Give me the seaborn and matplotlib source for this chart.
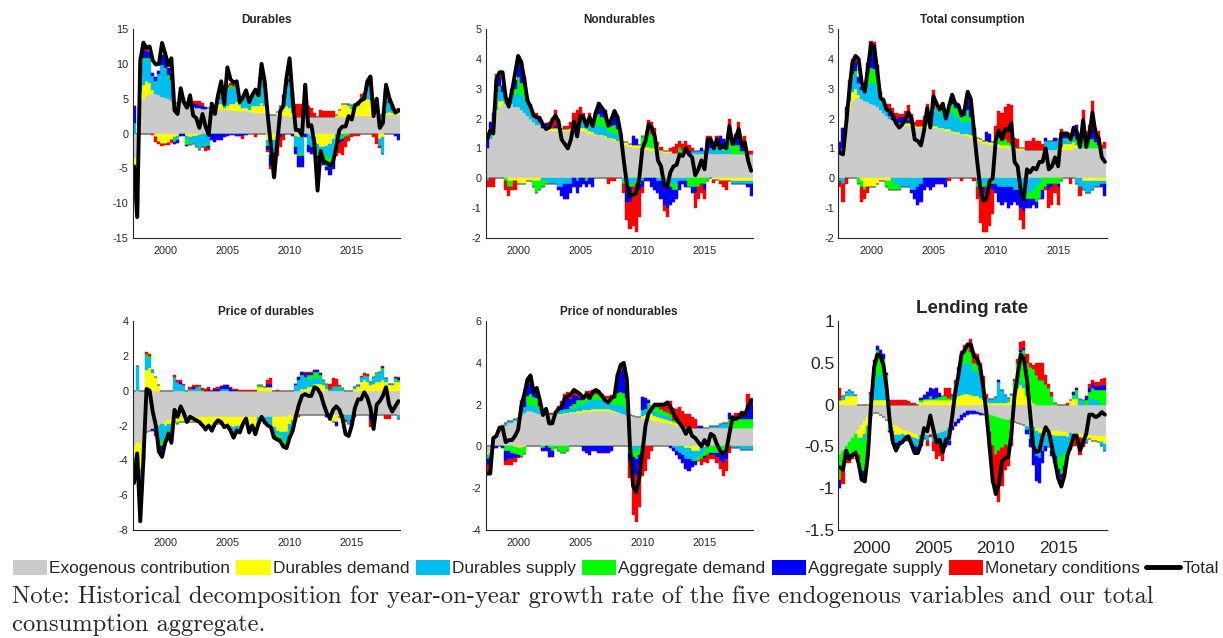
import numpy as np
import pandas as pd
import matplotlib
matplotlib.use("Agg")
import matplotlib.pyplot as plt
import seaborn as sns
from matplotlib.patches import Patch
from matplotlib.lines import Line2D

# quarters 1997Q3 .. 2018Q4
quarters = pd.period_range("1997Q3", "2018Q4", freq="Q")

shock_names = ["Exogenous contribution", "Durables demand", "Durables supply",
               "Aggregate demand", "Aggregate supply", "Monetary conditions"]
shock_colors = ["#cbcbcb", "#ffff00", "#00bef0", "#00ff00", "#0000ff", "#ff0000"]

# ---------------- Durables ----------------
dur_total = [-4.7, -12.0, 10.5, 13.0, 12.3, 12.5, 10.5, 9.9, 10.0, 13.0,
             11.5, 9.8, 10.8, 3.3, 2.8, 6.5, 4.5, 3.7, 5.5, 2.6,
             2.2, 0.8, 2.8, 1.0, -0.2, 4.3, 2.8, 5.5, 7.5, 4.2,
             9.5, 7.8, 7.3, 7.5, 4.5, 5.2, 6.2, 4.5, 5.5, 6.3,
             5.5, 10.0, 7.5, 2.5, -1.8, -6.3, -1.5, 3.2, 4.0, 8.0,
             10.8, 5.0, 0.5, 0.5, -0.3, 7.0, 1.0, 1.2, -1.5, -8.2,
             -2.5, -4.0, -4.2, -4.7, -4.0, -2.0, 0.5, 1.0, 1.0, 2.5,
             2.0, 4.0, 4.3, 4.8, 5.0, 7.5, 8.2, 2.5, 5.0, 0.8,
             1.5, 7.0, 5.2, 4.0, 3.0, 3.3]
dur_exo = [-3.5, -4.0, 4.5, 5.0, 5.4, 5.7, 5.7, 5.6, 5.5, 5.3,
           5.1, 4.9, 4.7, 4.5, 4.4, 4.2, 4.1, 4.0, 3.9, 3.8,
           3.7, 3.6, 3.5, 3.5, 3.4, 3.4, 3.4, 3.4, 3.4, 3.4,
           3.4, 3.4, 3.3, 3.3, 3.3, 3.2, 3.2, 3.1, 3.1, 3.0,
           3.0, 2.9, 2.9, 2.8, 2.7, 2.6, 2.6, 2.5, 2.5, 2.5,
           2.4, 2.4, 2.4, 2.4, 2.4, 2.4, 2.4, 2.4, 2.4, 2.4,
           2.4, 2.4, 2.4, 2.4, 2.4, 2.4, 2.4, 2.4, 2.4, 2.4,
           2.5, 2.5, 2.5, 2.5, 2.5, 2.5, 2.5, 2.5, 2.5, 2.5,
           2.5, 2.5, 2.6, 2.6, 2.6, 2.6]
dur_ddem = [-1.2, -2.0, 1.5, 2.0, 2.2, 1.5, 0.5, -0.5, -1.2, -1.5,
            -1.5, -1.3, -1.0, -0.5, -0.3, 0.2, 0.3, -0.3, -0.5, -0.3,
            -0.3, -0.2, 0.0, 0.0, 0.3, 0.5, 0.5, 0.8, 0.8, 0.3,
            0.5, 0.8, 1.0, 1.2, 0.8, 0.5, 0.5, 0.3, 0.8, 1.0,
            1.0, 1.5, 1.0, -1.0, -1.8, -1.0, 0.5, 1.0, 1.2, 1.5,
            1.2, 0.5, -0.3, -0.5, -0.5, 0.0, 0.0, -0.3, -0.5, -1.5,
            -2.0, -2.0, -1.8, -1.5, -0.8, 0.3, 1.0, 1.8, 1.8, 1.5,
            1.0, 1.0, 1.5, 2.0, 2.3, 2.5, 2.3, 1.5, 1.0, -0.8,
            -0.5, 0.5, 0.5, 0.3, 0.2, 0.3]
dur_dsup = [1.5, -3.0, 2.5, 3.5, 3.0, 3.5, 2.0, 2.0, 3.0, 4.5,
            4.0, 3.0, 2.5, -0.5, -0.5, 0.5, 0.3, -0.5, -0.8, -1.0,
            -1.5, -2.0, -2.0, -1.8, -1.5, 0.3, 0.0, 0.5, 1.5, 0.5,
            2.5, 2.5, 2.2, 2.5, 0.8, 0.8, 1.5, 0.8, 1.2, 1.5,
            1.0, 3.5, 2.5, -0.5, -1.0, -1.5, -0.5, 0.5, 1.0, 2.5,
            3.5, 1.0, -1.5, -2.5, -2.5, 1.0, -1.5, -1.5, -1.5, -1.0,
            -0.5, -1.0, -1.5, -2.0, -2.0, -1.0, -0.5, -0.3, 0.0, 0.3,
            0.3, 0.5, 0.3, 0.5, 0.5, 1.5, 2.5, 0.3, 0.8, -1.0,
            -2.5, 2.0, 1.0, 0.3, 0.0, 0.2]
dur_adem = [0.0, 0.0, 0.0, 0.3, 0.3, 0.2, 0.0, 0.0, 0.0, 0.0,
            0.3, 0.5, 0.5, -0.2, -0.2, 0.2, 0.2, -0.8, -0.3, -0.2,
            -0.2, -0.2, 0.0, -0.2, -0.3, 0.2, 0.0, 0.3, 0.3, 0.0,
            0.3, 0.3, 0.3, 0.3, 0.3, 0.3, 0.3, 0.2, 0.3, 0.3,
            0.3, 0.5, 0.3, -0.3, -0.3, -0.3, -0.3, 0.0, 0.0, 0.3,
            0.3, 0.2, -0.2, -0.3, -0.3, 0.2, -0.2, -0.2, -0.3, -0.8,
            -0.8, -1.0, -1.5, -1.5, -1.3, -0.8, -0.5, -0.5, -0.5, -0.3,
            0.3, 0.3, 0.2, 0.3, 0.2, 0.3, 0.3, 0.0, 0.3, 0.0,
            0.0, 0.5, 0.3, 0.2, 0.1, 0.1]
dur_asup = [2.4, -1.0, 1.0, 1.5, 1.0, 0.8, 0.5, 0.5, 0.5, 1.5,
            1.5, 1.0, 0.8, -0.3, -0.3, -0.3, -0.3, -0.2, 0.3, 0.5,
            0.6, 0.5, 0.5, 0.3, -0.3, -1.0, -1.2, -1.0, -1.0, -0.5,
            -0.3, -0.2, -0.2, -0.3, -0.3, -0.3, -0.2, 0.0, 0.3, 0.3,
            0.5, 0.5, 0.3, -0.5, -1.5, -2.0, -1.0, -0.5, 0.8, 0.5,
            0.3, -0.3, -1.0, -1.5, -1.5, -0.5, -1.0, -1.0, -0.3, -0.3,
            -0.3, -0.5, -0.5, -1.0, -1.0, -0.5, -0.3, -0.3, 0.0, 0.0,
            0.0, 0.0, 0.0, 0.0, 0.0, 0.3, 0.2, 0.0, 0.3, 0.0,
            0.0, 0.3, 0.3, 0.3, -0.3, -1.0]
dur_mon = [-1.7, -2.0, 0.0, 1.0, 0.5, 0.0, -0.2, -0.7, -0.3, -0.3,
           -0.2, -0.3, -0.3, 0.0, 0.0, 0.2, 0.2, 0.3, 0.3, 0.3,
           0.4, 0.6, 0.4, -0.5, -0.3, 0.0, 0.2, 0.3, 0.0, 0.2,
           0.2, 0.3, 0.3, 0.2, 0.2, -0.5, 0.0, 0.2, 0.0, -0.5,
           0.3, 0.5, 0.3, -0.3, -0.5, -1.5, -1.5, -1.5, -1.0, 0.5,
           0.2, 1.8, 1.8, 1.8, 1.8, 3.5, 1.5, 1.3, 0.5, -2.0,
           1.0, 0.9, 0.8, 0.8, 0.8, -1.0, -1.5, -2.0, -1.5, -0.8,
           -0.5, -0.3, -0.3, 0.3, 0.3, 0.3, 0.3, -0.5, -1.5, -0.3,
           0.3, 0.5, 0.3, 0.5, 0.5, 0.5]

# ---------------- Nondurables ----------------
nd_total = [1.3, 1.6, 1.5, 3.3, 3.55, 3.55, 2.7, 2.4, 2.9, 3.5,
            4.1, 3.9, 3.3, 2.6, 2.4, 2.1, 2.05, 2.0, 1.8, 1.65,
            1.7, 1.95, 2.1, 1.9, 1.3, 1.15, 1.0, 1.3, 1.9, 1.4,
            2.1, 2.05, 1.75, 2.05, 1.75, 2.2, 2.5, 2.35, 2.2, 1.75,
            1.95, 2.25, 2.05, 1.5, 0.6, -0.2, -0.6, -0.55, -0.5, 0.0,
            1.0, 1.25, 1.8, 1.7, 1.4, 0.6, 0.4, -0.2, -0.3, 0.2,
            0.4, 0.45, 0.8, 0.75, 1.0, 0.8, 0.7, 0.1, 0.3, 0.6,
            0.3, 1.3, 1.3, 1.0, 1.3, 1.0, 1.1, 1.0, 1.75, 1.15,
            1.35, 1.65, 1.1, 1.2, 0.6, 0.25]
nd_exo = [1.0, 1.3, 1.6, 2.2, 2.4, 2.5, 2.5, 2.5, 2.5, 2.4,
          2.4, 2.3, 2.2, 2.1, 2.0, 1.9, 1.8, 1.8, 1.7, 1.7,
          1.6, 1.6, 1.6, 1.6, 1.6, 1.6, 1.6, 1.6, 1.6, 1.6,
          1.6, 1.6, 1.55, 1.5, 1.5, 1.45, 1.4, 1.4, 1.35, 1.3,
          1.3, 1.25, 1.2, 1.2, 1.1, 1.1, 1.05, 1.0, 1.0, 1.0,
          1.0, 0.95, 0.95, 0.9, 0.9, 0.9, 0.9, 0.85, 0.85, 0.85,
          0.85, 0.85, 0.85, 0.85, 0.85, 0.8, 0.8, 0.8, 0.8, 0.8,
          0.8, 0.8, 0.8, 0.8, 0.8, 0.8, 0.8, 0.8, 0.8, 0.8,
          0.8, 0.8, 0.8, 0.8, 0.8, 0.8]
nd_ddem = [0.0, 0.0, 0.1, 0.1, 0.2, 0.1, 0.0, -0.1, -0.1, -0.1,
           -0.2, -0.2, -0.2, -0.1, -0.1, -0.1, -0.1, -0.1, 0.0, 0.05,
           0.1, 0.1, 0.1, 0.1, 0.05, 0.05, 0.05, 0.1, 0.1, 0.1,
           0.1, 0.1, 0.1, 0.1, 0.05, 0.05, 0.05, 0.05, 0.05, 0.05,
           0.05, 0.05, 0.05, 0.1, 0.1, 0.1, 0.1, 0.1, 0.1, 0.1,
           0.1, 0.1, 0.1, 0.1, 0.1, 0.1, 0.05, 0.05, 0.05, 0.05,
           0.0, 0.0, 0.0, 0.0, 0.0, 0.0, 0.0, 0.0, 0.0, 0.0,
           0.0, 0.0, 0.0, -0.05, -0.05, -0.1, -0.1, -0.1, -0.1, -0.1,
           -0.1, -0.1, -0.1, -0.1, -0.1, -0.1]
nd_dsup = [-0.1, 0.2, 0.2, 0.5, 0.4, 0.3, 0.2, 0.1, 0.3, 0.4,
           0.5, 0.5, 0.5, 0.4, 0.3, 0.2, 0.2, 0.1, -0.1, -0.1,
           -0.2, -0.2, -0.2, -0.3, -0.3, -0.2, -0.2, -0.2, 0.1, -0.1,
           0.2, 0.3, 0.2, 0.3, 0.2, 0.3, 0.3, 0.3, 0.3, 0.2,
           0.2, 0.2, 0.2, 0.1, -0.1, -0.2, -0.2, -0.2, -0.1, -0.1,
           -0.1, 0.0, 0.1, 0.0, 0.0, -0.1, -0.1, -0.2, -0.2, -0.2,
           -0.2, -0.2, -0.1, -0.1, -0.1, 0.0, 0.1, 0.1, 0.1, 0.1,
           0.1, 0.1, 0.2, 0.2, 0.2, 0.2, 0.1, 0.1, 0.2, -0.1,
           -0.1, -0.1, -0.1, -0.1, -0.1, -0.1]
nd_adem = [0.0, 0.0, 0.0, 0.1, 0.1, 0.0, -0.1, -0.2, -0.2, 0.2,
           0.5, 0.4, 0.4, 0.1, 0.1, -0.2, -0.4, -0.3, -0.2, -0.1,
           0.0, 0.0, 0.0, 0.0, 0.0, 0.0, 0.0, 0.0, 0.0, 0.0,
           0.0, 0.1, -0.1, 0.2, 0.1, 0.3, 0.4, 0.3, 0.3, 0.2,
           0.2, 0.3, 0.2, 0.0, -0.1, -0.1, -0.1, -0.1, -0.1, -0.1,
           0.3, 0.3, 0.5, 0.5, 0.4, 0.1, 0.0, 0.0, 0.0, -0.1,
           -0.2, -0.2, 0.2, 0.1, 0.1, -0.3, -0.3, -0.3, -0.3, -0.2,
           -0.2, -0.1, 0.0, 0.1, 0.1, 0.1, 0.1, 0.2, 0.3, 0.3,
           0.3, 0.3, 0.1, 0.1, 0.0, 0.0]
nd_asup = [0.3, 0.4, 0.3, 0.5, 0.3, 0.2, 0.1, 0.1, 0.2, 0.3,
           0.6, 0.6, 0.3, 0.1, 0.0, 0.0, 0.1, 0.1, 0.1, 0.1,
           0.1, 0.0, 0.1, -0.1, -0.3, -0.5, -0.5, -0.3, -0.3, -0.4,
           -0.3, -0.2, -0.2, -0.2, -0.3, 0.1, 0.3, 0.3, 0.3, 0.2,
           0.3, 0.5, 0.4, 0.1, 0.0, -0.5, -0.5, 0.3, 0.2, -0.2,
           -0.2, -0.1, -0.1, -0.3, -0.4, -0.4, -0.6, -0.7, -0.8, -0.6,
           -0.4, -0.3, -0.3, -0.1, -0.2, 0.1, -0.2, -0.2, 0.0, 0.1,
           -0.2, 0.4, 0.3, 0.1, 0.2, 0.3, 0.3, 0.1, 0.3, 0.1,
           0.3, 0.3, 0.2, 0.2, -0.1, -0.4]
nd_mon = [-0.2, -0.3, -0.3, 0.1, 0.1, 0.0, -0.3, -0.3, -0.1, -0.3,
          0.1, 0.1, 0.0, 0.0, 0.1, 0.1, 0.1, 0.1, 0.0, 0.0,
          0.1, 0.3, 0.5, 0.3, 0.0, 0.1, 0.1, 0.2, 0.4, 0.6,
          0.5, 0.1, 0.1, 0.1, 0.0, 0.0, 0.1, 0.0, 0.0, -0.2,
          -0.1, -0.1, 0.0, 0.0, -0.3, -0.6, -0.9, -1.3, -1.6, -0.9,
          -0.2, 0.0, 0.3, 0.4, 0.3, 0.1, 0.1, -0.2, -0.3, 0.1,
          0.2, 0.3, 0.2, 0.2, 0.3, 0.2, 0.1, -0.5, -0.4, -0.3,
          -0.3, 0.1, 0.1, -0.1, 0.1, -0.1, -0.2, -0.3, 0.4, 0.1,
          0.1, 0.5, 0.1, 0.3, 0.1, 0.1]

# ---------------- Total consumption ----------------
tc_total = [0.85, 0.8, 1.8, 2.9, 3.85, 4.1, 4.0, 3.2, 2.9, 3.7,
            4.5, 4.4, 3.6, 2.7, 2.6, 2.3, 2.25, 2.1, 1.85, 1.7,
            1.8, 2.0, 2.2, 2.0, 1.3, 1.25, 1.1, 1.6, 2.35, 1.7,
            2.75, 2.5, 2.3, 2.5, 2.0, 2.4, 2.8, 2.5, 2.45, 2.1,
            2.3, 2.9, 2.65, 1.6, 0.6, -0.3, -0.75, -0.7, -0.1, 0.0,
            1.3, 1.6, 1.3, 1.65, 1.6, 1.85, 0.55, 0.4, -0.4, -0.7,
            0.3, 0.2, 0.35, 0.3, 0.55, 0.55, 1.0, 0.3, 0.4, 0.7,
            0.4, 1.5, 1.5, 1.5, 1.3, 1.7, 1.55, 1.05, 1.95, 1.05,
            1.45, 2.2, 1.5, 1.35, 0.7, 0.55]
tc_exo = [0.8, 1.0, 1.8, 2.3, 2.6, 2.7, 2.7, 2.65, 2.6, 2.55,
          2.5, 2.45, 2.4, 2.3, 2.2, 2.1, 2.0, 1.95, 1.9, 1.8,
          1.75, 1.75, 1.75, 1.75, 1.75, 1.7, 1.7, 1.7, 1.7, 1.7,
          1.7, 1.7, 1.65, 1.65, 1.6, 1.6, 1.55, 1.5, 1.5, 1.45,
          1.45, 1.4, 1.35, 1.3, 1.25, 1.2, 1.15, 1.15, 1.1, 1.1,
          1.05, 1.05, 1.0, 1.0, 1.0, 1.0, 1.0, 0.95, 0.95, 0.95,
          0.95, 0.95, 0.95, 0.95, 0.95, 0.95, 0.95, 0.95, 0.95, 0.95,
          0.95, 0.95, 0.95, 0.95, 0.95, 1.0, 1.0, 1.0, 1.0, 1.0,
          1.0, 1.0, 1.0, 1.0, 1.0, 1.0]
tc_ddem = [0.0, 0.0, 0.1, 0.3, 0.3, 0.3, 0.1, -0.1, -0.3, -0.3,
           -0.3, -0.3, -0.2, -0.1, -0.1, -0.1, -0.1, 0.0, 0.0, 0.05,
           0.1, 0.1, 0.1, 0.1, 0.05, 0.05, 0.05, 0.1, 0.1, 0.05,
           0.05, 0.05, 0.05, 0.05, 0.05, 0.05, 0.05, 0.05, 0.05, 0.05,
           0.05, 0.1, 0.1, 0.1, 0.1, 0.1, 0.1, 0.1, 0.1, 0.1,
           0.1, 0.1, 0.1, 0.1, 0.1, 0.05, 0.05, 0.05, 0.05, 0.05,
           0.0, 0.0, 0.0, 0.0, 0.0, 0.0, 0.0, 0.0, 0.0, 0.0,
           0.05, 0.1, 0.2, 0.2, 0.2, 0.2, 0.1, 0.0, -0.1, -0.1,
           -0.1, -0.1, -0.1, -0.1, -0.1, -0.1]
tc_dsup = [-0.1, -0.2, 0.2, 0.3, 0.5, 0.5, 0.4, 0.3, 0.4, 0.6,
           0.7, 0.7, 0.6, 0.4, 0.3, 0.2, 0.1, -0.1, -0.2, -0.3,
           -0.3, -0.3, -0.3, -0.4, -0.4, -0.3, -0.2, 0.1, 0.4, 0.2,
           0.6, 0.6, 0.5, 0.6, 0.5, 0.6, 0.6, 0.5, 0.5, 0.4,
           0.4, 0.5, 0.4, 0.1, -0.2, -0.2, -0.2, -0.2, -0.1, -0.1,
           -0.2, -0.3, -0.3, -0.3, -0.3, -0.3, -0.4, -0.4, -0.4, -0.4,
           -0.5, -0.5, -0.4, -0.3, -0.2, 0.0, 0.3, 0.3, 0.3, 0.3,
           0.3, 0.3, 0.2, 0.1, 0.1, 0.1, -0.2, -0.3, -0.3, -0.4,
           -0.4, -0.3, -0.2, -0.2, -0.1, -0.1]
tc_adem = [0.0, 0.0, 0.0, 0.1, 0.1, 0.1, -0.2, -0.2, -0.1, 0.3,
           0.5, 0.5, 0.4, 0.1, 0.1, -0.2, -0.3, -0.3, -0.2, -0.1,
           0.0, 0.0, 0.0, 0.0, 0.0, 0.0, 0.0, 0.0, 0.0, 0.0,
           0.0, 0.1, 0.1, 0.1, 0.1, 0.2, 0.3, 0.3, 0.3, 0.2,
           0.2, 0.3, 0.2, 0.0, -0.1, -0.1, -0.1, -0.1, -0.1, -0.1,
           0.2, 0.3, 0.2, 0.2, 0.1, 0.1, 0.0, 0.0, 0.0, -0.1,
           -0.2, -0.2, -0.3, -0.5, -0.5, -0.4, -0.3, -0.2, -0.2, -0.2,
           -0.2, -0.1, 0.0, 0.1, 0.1, 0.1, 0.2, 0.2, 0.3, 0.3,
           0.3, 0.3, 0.2, 0.1, 0.0, 0.0]
tc_asup = [0.4, 0.7, 0.3, 0.2, 0.3, 0.3, 0.2, 0.1, 0.2, 0.4,
           0.8, 0.8, 0.4, 0.1, 0.0, 0.1, 0.1, 0.1, 0.1, 0.2,
           0.2, 0.1, 0.1, -0.1, -0.3, -0.6, -0.6, -0.4, -0.3, -0.4,
           -0.3, -0.2, -0.2, -0.2, -0.3, 0.0, 0.2, 0.2, 0.1, 0.1,
           0.2, 0.4, 0.4, 0.2, 0.0, -0.3, -0.2, 0.3, 0.3, -0.2,
           -0.3, -0.5, -0.6, -0.5, -0.7, -0.6, -0.4, -0.5, -0.6, -0.6,
           -0.3, -0.3, -0.2, -0.2, 0.0, -0.3, 0.1, -0.2, -0.1, 0.1,
           -0.1, 0.2, 0.1, 0.1, 0.1, 0.2, 0.5, 0.3, 0.3, 0.2,
           0.3, 0.4, 0.2, 0.1, -0.1, -0.4]
tc_mon = [-0.2, -0.6, -0.2, 0.1, 0.2, 0.1, 0.0, -0.5, -0.3, -0.2,
          0.1, 0.1, 0.0, 0.0, 0.1, 0.1, 0.3, 0.3, 0.2, 0.1,
          0.1, 0.3, 0.5, 0.3, 0.1, 0.2, 0.2, 0.2, 0.3, 0.2,
          0.6, 0.1, 0.1, 0.1, 0.0, -0.1, 0.1, 0.0, 0.0, -0.1,
          0.0, 0.2, 0.2, -0.1, -0.4, -0.9, -1.3, -1.5, -1.4, -0.8,
          0.4, 0.8, 0.9, 1.1, 1.3, 1.3, 0.3, 0.3, -0.4, -0.6,
          0.3, 0.3, 0.4, 0.3, 0.3, 0.2, -0.1, -0.6, -0.6, -0.3,
          -0.6, 0.1, 0.1, 0.0, -0.2, 0.1, 0.0, -0.3, 0.7, 0.1,
          0.2, 0.9, 0.3, 0.4, 0.1, 0.2]

# ---------------- Price of durables ----------------
pd_total = [-5.3, -3.6, -7.5, -4.0, 0.1, 0.0, -1.2, -2.0, -3.5, -3.8,
            -3.0, -2.5, -3.0, -1.1, -1.5, -0.9, -1.3, -1.8, -1.5, -1.6,
            -1.7, -1.8, -2.0, -2.2, -2.0, -2.3, -1.9, -1.7, -1.8, -2.1,
            -2.0, -2.3, -2.7, -2.3, -2.4, -1.9, -1.6, -2.4, -2.0, -2.5,
            -1.9, -1.5, -1.8, -2.0, -2.1, -2.7, -2.8, -2.9, -3.2, -3.3,
            -2.7, -2.3, -1.5, -0.8, -0.3, -0.2, -0.3, -0.3, 0.2, 0.1,
            -0.2, -0.8, -1.3, -1.6, -1.1, -0.9, -1.1, -1.6, -2.5, -2.6,
            -2.0, -1.0, -0.5, -0.5, -0.1, -0.4, -1.0, -2.2, -0.8, -0.6,
            -0.3, 0.2, -0.8, -1.2, -0.9, -0.6]
pd_exo = [-3.2, -3.0, -3.0, -2.5, -2.4, -2.3, -2.2, -2.1, -2.0, -1.9,
          -1.8, -1.7, -1.6, -1.6, -1.5, -1.5, -1.5, -1.5, -1.5, -1.5,
          -1.5, -1.5, -1.5, -1.5, -1.5, -1.5, -1.5, -1.5, -1.5, -1.5,
          -1.5, -1.5, -1.5, -1.5, -1.5, -1.5, -1.5, -1.5, -1.5, -1.5,
          -1.5, -1.5, -1.5, -1.5, -1.5, -1.5, -1.5, -1.5, -1.5, -1.5,
          -1.4, -1.4, -1.4, -1.4, -1.4, -1.4, -1.4, -1.4, -1.4, -1.4,
          -1.4, -1.4, -1.4, -1.4, -1.4, -1.4, -1.4, -1.4, -1.4, -1.4,
          -1.4, -1.4, -1.4, -1.4, -1.4, -1.4, -1.4, -1.4, -1.4, -1.4,
          -1.4, -1.4, -1.4, -1.4, -1.4, -1.4]
pd_ddem = [-0.6, -0.8, -1.5, -0.5, 1.2, 1.3, 1.0, 0.8, 0.3, 0.0,
           -0.2, -0.2, -0.3, -0.2, -0.3, -0.3, -0.3, -0.3, -0.3, -0.3,
           -0.3, -0.3, -0.4, -0.5, -0.5, -0.5, -0.5, -0.4, -0.4, -0.5,
           -0.5, -0.5, -0.6, -0.5, -0.5, -0.4, -0.3, -0.5, -0.4, -0.6,
           0.2, 0.2, 0.2, 0.2, 0.2, -0.6, -0.8, -0.9, -0.9, -0.9,
           -0.5, -0.3, 0.0, 0.0, 0.1, 0.1, 0.2, 0.2, 0.4, 0.4,
           0.4, 0.3, 0.1, -0.3, -0.4, -0.4, -0.1, 0.0, 0.0, 0.0,
           0.0, 0.1, 0.2, 0.5, 0.6, 0.5, 0.3, 0.4, 0.5, 0.5,
           0.6, 0.5, 0.3, 0.3, 0.5, 0.5]
pd_dsup = [-0.8, 1.4, -1.0, -0.5, 0.8, 0.6, 0.2, -0.2, -0.8, -1.0,
           -0.6, -0.4, -0.4, 0.8, 0.5, 0.4, 0.3, 0.0, 0.1, 0.1,
           0.2, 0.2, -0.1, -0.2, -0.1, -0.2, 0.0, 0.0, 0.1, 0.1,
           0.1, -0.2, -0.3, -0.2, -0.3, -0.2, 0.0, -0.3, -0.1, -0.2,
           -0.3, -0.2, -0.3, -0.5, -0.6, -0.4, -0.2, -0.2, -0.5, -0.5,
           -0.4, -0.3, 0.3, 0.6, 0.7, 0.6, 0.5, 0.4, 0.4, 0.4,
           0.3, 0.2, 0.2, 0.1, 0.2, 0.2, 0.2, 0.1, -0.2, -0.5,
           -0.3, 0.1, 0.1, 0.3, 0.3, 0.3, 0.2, 0.3, 0.4, 0.5,
           0.6, 0.2, 0.1, 0.1, 0.1, -0.2]
pd_adem = [-0.2, -0.3, -0.2, -0.2, 0.1, 0.1, 0.0, 0.0, -0.3, -0.3,
           -0.3, -0.1, -0.3, 0.0, -0.1, 0.0, 0.0, 0.0, 0.0, 0.0,
           0.0, 0.05, 0.05, 0.0, 0.0, 0.0, 0.0, 0.0, 0.0, 0.0,
           0.0, 0.0, 0.0, 0.0, 0.0, 0.0, 0.0, 0.0, 0.0, -0.1,
           0.1, 0.1, 0.0, 0.0, 0.0, -0.1, -0.2, -0.2, -0.3, -0.3,
           -0.3, -0.1, 0.0, 0.0, 0.1, 0.1, 0.2, 0.3, 0.3, 0.3,
           0.2, 0.1, 0.1, 0.0, 0.05, 0.05, 0.05, 0.05, -0.1, 0.0,
           0.0, 0.0, 0.0, 0.0, 0.0, 0.05, 0.0, 0.1, 0.1, 0.1,
           0.1, 0.0, 0.0, 0.0, 0.1, 0.1]
pd_asup = [-0.1, -0.3, -0.3, -0.1, 0.0, 0.0, -0.1, -0.1, -0.2, -0.2,
           0.0, 0.0, -0.1, 0.0, 0.0, 0.1, 0.0, 0.0, 0.0, 0.1,
           0.0, 0.0, 0.0, -0.1, 0.1, -0.1, 0.1, 0.1, 0.15, 0.2,
           0.25, 0.15, 0.05, 0.05, 0.0, 0.0, 0.0, 0.0, 0.0, 0.0,
           -0.1, 0.0, 0.0, 0.2, 0.2, 0.0, 0.0, 0.0, -0.1, -0.1,
           -0.1, -0.1, 0.1, 0.2, 0.2, 0.2, 0.1, 0.1, 0.1, 0.1,
           0.1, 0.0, -0.1, 0.0, 0.0, -0.2, 0.0, 0.0, 0.0, 0.0,
           -0.1, -0.1, 0.0, 0.0, 0.0, 0.0, -0.2, 0.0, 0.0, 0.0,
           0.05, 0.0, 0.0, 0.0, 0.1, 0.1]
pd_mon = [-0.3, -0.3, -0.3, -0.2, 0.1, 0.1, 0.0, -0.2, -0.2, -0.3,
          -0.1, -0.1, -0.2, 0.1, 0.1, 0.1, 0.1, 0.0, 0.1, 0.1,
          0.1, 0.1, 0.1, 0.1, 0.1, 0.05, 0.05, 0.1, 0.0, -0.1,
          -0.1, 0.05, 0.05, 0.05, 0.05, 0.05, 0.05, 0.05, 0.05, 0.05,
          0.05, 0.0, -0.1, 0.2, 0.3, -0.1, 0.05, 0.0, 0.0, 0.0,
          0.0, -0.1, -0.2, -0.1, 0.0, 0.05, 0.05, 0.05, 0.0, 0.0,
          0.0, 0.0, 0.0, 0.3, 0.5, 0.4, 0.1, -0.1, -0.1, 0.0,
          0.0, 0.0, 0.0, 0.05, 0.1, 0.1, -0.5, 0.0, 0.0, 0.0,
          0.05, -0.2, -0.2, 0.0, 0.0, 0.1]

# ---------------- Price of nondurables ----------------
pn_total = [-1.3, -1.3, 0.4, 0.5, 0.9, 0.9, 0.2, 0.3, 0.3, 0.5,
            0.8, 1.9, 2.5, 3.2, 3.4, 2.6, 2.8, 2.2, 1.5, 1.8,
            1.1, 1.1, 1.6, 1.8, 1.9, 2.3, 2.4, 2.5, 2.7, 2.6,
            2.5, 2.3, 2.5, 2.3, 2.6, 2.7, 2.6, 2.4, 2.2, 2.1,
            2.3, 2.4, 3.4, 3.9, 4.0, 3.2, 0.0, -1.9, -2.2, -1.5,
            -0.3, 1.0, 1.6, 1.8, 2.0, 2.0, 2.0, 2.0, 2.1, 1.9,
            1.6, 1.3, 1.1, 0.9, 0.6, 0.9, 0.5, 0.4, 0.2, 0.0,
            0.3, 0.05, 0.6, 0.5, 0.1, -0.2, -0.35, -0.2, 0.6, 1.4,
            1.3, 1.4, 1.6, 1.5, 1.9, 2.2]
pn_exo = [-0.3, -0.2, 0.3, 0.5, 0.7, 0.8, 1.0, 1.1, 1.1, 1.2,
          1.3, 1.5, 1.6, 1.7, 1.7, 1.65, 1.6, 1.55, 1.5, 1.5,
          1.5, 1.5, 1.5, 1.5, 1.5, 1.55, 1.55, 1.6, 1.6, 1.6,
          1.6, 1.65, 1.65, 1.65, 1.7, 1.7, 1.7, 1.7, 1.7, 1.7,
          1.65, 1.65, 1.6, 1.6, 1.55, 1.5, 1.5, 1.45, 1.4, 1.4,
          1.35, 1.3, 1.3, 1.25, 1.2, 1.2, 1.15, 1.1, 1.1, 1.05,
          1.05, 1.0, 1.0, 0.95, 0.95, 0.95, 0.9, 0.9, 0.9, 0.9,
          0.9, 0.9, 0.9, 0.9, 0.9, 0.9, 0.9, 0.9, 0.9, 0.9,
          0.9, 0.9, 0.9, 0.9, 0.9, 0.9]
pn_ddem = [-0.1, -0.1, 0.0, 0.0, 0.0, 0.0, 0.0, 0.0, 0.0, -0.05,
           -0.1, -0.1, -0.05, 0.0, 0.0, 0.0, 0.0, 0.0, 0.0, 0.0,
           0.0, 0.0, 0.05, 0.05, 0.05, 0.05, 0.05, 0.05, 0.05, 0.1,
           0.1, 0.1, 0.1, 0.1, 0.1, 0.1, 0.1, 0.1, 0.1, 0.1,
           0.1, 0.05, 0.05, 0.0, 0.0, 0.0, 0.0, 0.0, 0.0, 0.0,
           0.1, 0.2, 0.3, 0.3, 0.25, 0.2, 0.2, 0.2, 0.15, 0.15,
           0.1, 0.1, 0.05, 0.0, -0.1, -0.1, -0.2, -0.2, -0.2, -0.1,
           -0.05, 0.0, 0.0, 0.0, 0.0, 0.0, 0.0, 0.0, 0.0, 0.0,
           0.0, 0.0, 0.0, 0.0, 0.0, 0.0]
pn_dsup = [-0.1, -0.1, 0.1, 0.1, 0.15, 0.15, 0.1, 0.1, 0.1, 0.1,
           0.05, 0.2, 0.3, 0.3, 0.3, 0.3, 0.3, 0.2, 0.1, 0.1,
           0.05, 0.05, 0.1, 0.2, 0.2, 0.2, 0.2, 0.2, 0.2, 0.3,
           0.3, 0.3, 0.4, 0.4, 0.4, 0.4, 0.4, 0.4, 0.3, 0.3,
           0.3, 0.3, 0.4, 0.4, 0.4, 0.3, -0.1, -0.2, -0.2, -0.1,
           0.3, 0.2, 0.3, 0.2, 0.2, 0.2, 0.2, 0.2, 0.2, 0.15,
           -0.1, -0.2, -0.3, -0.4, -0.5, -0.5, -0.5, -0.4, -0.3, -0.3,
           -0.2, -0.1, 0.1, 0.1, 0.1, 0.15, 0.2, 0.2, 0.1, -0.1,
           -0.1, -0.1, -0.15, -0.15, -0.15, -0.15]
pn_adem = [-0.1, -0.1, 0.0, 0.0, 0.0, 0.0, -0.2, -0.2, -0.3, -0.3,
           -0.3, -0.4, -0.3, 0.4, 0.5, 0.4, 0.4, 0.2, -0.1, 0.0,
           -0.1, -0.2, -0.1, -0.2, -0.3, -0.3, -0.2, 0.1, 0.2, 0.2,
           0.2, 0.2, 0.2, 0.2, 0.3, 0.3, 0.3, 0.2, 0.2, 0.2,
           0.3, 0.3, 0.5, 0.6, 0.6, 0.5, -0.2, -0.3, -0.4, -0.3,
           0.0, 0.1, 0.2, 0.2, 0.3, 0.3, 0.25, 0.2, 0.2, 0.2,
           0.1, 0.1, 0.05, 0.05, 0.0, 0.0, 0.0, -0.1, -0.2, -0.2,
           -0.2, -0.3, -0.3, -0.3, -0.3, -0.3, -0.3, -0.2, 0.3, 0.4,
           0.4, 0.4, 0.4, 0.4, 0.4, 0.4]
pn_asup = [-0.3, -0.4, -0.1, -0.1, 0.0, -0.1, -0.5, -0.4, -0.3, -0.2,
           -0.1, 0.4, 0.5, 0.6, 0.7, 0.3, 0.4, 0.2, -0.1, -0.2,
           -0.4, -0.3, 0.0, 0.1, 0.3, 0.6, 0.6, 0.3, 0.4, 0.2,
           0.1, -0.2, -0.3, -0.4, -0.2, -0.2, -0.3, -0.3, -0.3, -0.3,
           -0.2, 0.1, 0.8, 1.0, 1.2, 0.8, -0.4, -0.8, -0.8, -0.5,
           0.6, 0.5, 0.1, 0.0, 0.0, 0.05, 0.0, 0.0, 0.0, -0.1,
           -0.1, -0.2, -0.3, -0.4, -0.5, -0.6, -0.3, -0.2, 0.1, 0.1,
           -0.1, 0.0, -0.1, -0.1, -0.2, -0.4, -0.5, -0.4, 0.3, 0.0,
           0.0, 0.1, 0.2, 0.3, 0.7, 0.8]
pn_mon = [-0.4, -0.4, 0.0, 0.0, 0.05, 0.05, -0.2, -0.3, -0.3, -0.2,
          -0.05, 0.1, 0.1, 0.1, 0.1, 0.0, 0.1, 0.05, 0.0, 0.1,
          0.05, 0.05, 0.05, 0.1, 0.1, 0.1, 0.2, 0.3, 0.3, 0.2,
          0.2, 0.2, 0.3, 0.3, 0.2, 0.2, 0.2, 0.1, 0.1, 0.1,
          0.1, 0.05, 0.1, 0.2, 0.2, 0.1, -0.8, -2.0, -2.2, -2.0,
          -1.4, -1.2, -0.6, -0.2, 0.0, 0.1, 0.2, 0.3, 0.5, 0.6,
          0.6, 0.6, 0.8, 0.7, 0.6, 0.6, 0.5, 0.4, 0.0, -0.3,
          -0.2, -0.4, -0.2, -0.2, -0.3, -0.4, -0.6, -0.6, -0.3, 0.1,
          0.3, 0.2, 0.2, 0.1, 0.5, 0.2]

# ---------------- Lending rate ----------------
lr_total = [-0.75, -0.78, -0.55, -0.65, -0.6, -0.58, -0.7, -0.9, -0.92, -0.6,
            0.0, 0.45, 0.6, 0.58, 0.47, 0.2, -0.2, -0.45, -0.55, -0.47,
            -0.45, -0.4, -0.38, -0.48, -0.58, -0.58, -0.47, -0.28, -0.32, -0.13,
            -0.3, -0.45, -0.42, -0.57, -0.42, -0.4, -0.15, 0.15, 0.35, 0.6,
            0.65, 0.72, 0.72, 0.58, 0.55, 0.45, 0.2, -0.1, -0.5, -0.9,
            -1.07, -0.95, -0.68, -0.64, -0.63, -0.35, 0.1, 0.35, 0.6, 0.55,
            0.3, -0.1, -0.5, -0.57, -0.55, -0.38, -0.27, -0.33, -0.5, -0.68,
            -0.88, -0.98, -0.85, -0.6, -0.5, -0.37, -0.38, -0.55, -0.45, -0.35,
            -0.12, -0.12, -0.15, -0.13, -0.09, -0.12]
lr_exo = [-0.6, -0.55, -0.5, -0.45, -0.4, -0.35, -0.3, -0.25, -0.2, -0.15,
          -0.12, -0.1, -0.1, -0.12, -0.15, -0.18, -0.21, -0.24, -0.26, -0.28,
          -0.3, -0.32, -0.33, -0.34, -0.35, -0.36, -0.36, -0.36, -0.36, -0.36,
          -0.35, -0.35, -0.34, -0.33, -0.31, -0.28, -0.25, -0.21, -0.17, -0.13,
          -0.1, -0.08, -0.08, -0.08, -0.09, -0.1, -0.11, -0.12, -0.13, -0.14,
          -0.15, -0.16, -0.17, -0.18, -0.19, -0.2, -0.21, -0.22, -0.23, -0.24,
          -0.25, -0.26, -0.27, -0.28, -0.29, -0.3, -0.3, -0.31, -0.31, -0.32,
          -0.32, -0.33, -0.33, -0.34, -0.34, -0.35, -0.35, -0.35, -0.36, -0.36,
          -0.36, -0.37, -0.37, -0.37, -0.37, -0.37]
lr_ddem = [0.05, 0.05, 0.1, 0.1, 0.1, 0.1, -0.1, -0.15, -0.15, -0.1,
           0.05, 0.05, 0.05, 0.05, 0.05, 0.05, -0.05, -0.08, -0.1, -0.08,
           -0.05, -0.04, -0.03, -0.05, -0.05, -0.05, 0.03, 0.05, 0.05, 0.05,
           0.05, 0.05, 0.05, 0.05, 0.05, 0.05, 0.05, 0.08, 0.1, 0.12,
           0.13, 0.13, 0.12, 0.1, 0.1, 0.08, 0.05, 0.03, 0.02, 0.02,
           0.02, 0.02, 0.02, 0.02, 0.03, 0.1, 0.15, 0.2, 0.23, 0.2,
           0.1, 0.05, 0.02, -0.03, -0.05, -0.05, -0.05, -0.05, -0.05, -0.05,
           -0.05, -0.05, -0.05, -0.05, 0.05, 0.07, 0.07, -0.05, -0.05, -0.05,
           -0.05, -0.06, -0.07, -0.08, -0.08, -0.1]
lr_dsup = [0.0, 0.05, 0.05, 0.07, 0.05, 0.02, 0.0, -0.05, -0.05, -0.05,
           0.05, 0.2, 0.3, 0.3, 0.3, 0.2, -0.05, -0.08, -0.1, -0.08,
           -0.07, -0.06, -0.05, -0.07, -0.1, -0.1, -0.08, -0.05, -0.08, 0.03,
           -0.1, -0.1, -0.12, -0.15, -0.15, -0.15, 0.05, 0.15, 0.25, 0.35,
           0.35, 0.38, 0.35, 0.3, 0.3, 0.25, 0.15, 0.05, 0.05, 0.05,
           0.07, 0.25, 0.15, 0.1, 0.05, 0.03, 0.03, 0.05, 0.05, 0.05,
           -0.05, -0.15, -0.25, -0.3, -0.3, -0.2, -0.15, -0.15, -0.2, -0.25,
           -0.25, -0.25, -0.2, -0.15, -0.1, -0.05, 0.05, 0.05, 0.03, -0.05,
           0.05, 0.08, 0.05, 0.05, -0.05, -0.08]
lr_adem = [-0.3, -0.25, -0.1, -0.15, -0.2, -0.2, -0.2, -0.35, -0.4, -0.25,
           0.02, 0.25, 0.3, 0.25, 0.2, 0.1, 0.0, 0.0, 0.0, 0.0,
           0.0, 0.0, 0.0, 0.0, 0.0, 0.0, 0.02, 0.02, 0.02, 0.02,
           0.02, 0.03, 0.04, 0.05, 0.05, 0.03, 0.0, 0.02, 0.05, 0.12,
           0.15, 0.18, 0.16, 0.1, 0.08, 0.05, 0.02, -0.05, -0.2, -0.35,
           -0.45, -0.4, -0.35, -0.3, -0.3, -0.1, 0.1, 0.25, 0.35, 0.4,
           0.4, 0.4, 0.4, 0.35, 0.3, 0.3, 0.25, 0.2, 0.1, 0.02,
           -0.15, -0.2, -0.15, -0.05, -0.05, 0.05, 0.05, 0.02, 0.02, 0.05,
           0.1, 0.12, 0.12, 0.12, 0.17, 0.18]
lr_asup = [-0.1, 0.0, 0.0, 0.0, 0.0, 0.0, 0.0, -0.05, -0.05, -0.05,
           0.0, 0.03, 0.05, 0.05, 0.05, 0.03, -0.02, -0.04, -0.05, -0.04,
           -0.04, -0.02, -0.02, -0.02, -0.05, -0.05, 0.03, 0.05, 0.08, 0.1,
           0.12, 0.12, 0.05, -0.05, -0.05, -0.05, -0.05, -0.05, -0.05, -0.05,
           -0.05, -0.05, -0.03, -0.03, -0.02, -0.02, -0.02, 0.0, 0.0, 0.0,
           0.0, 0.03, 0.0, 0.0, 0.0, 0.0, 0.0, 0.0, 0.02, 0.03,
           -0.05, -0.1, -0.2, -0.3, -0.3, -0.15, -0.05, 0.0, -0.05, -0.05,
           -0.05, -0.05, -0.05, -0.02, 0.0, 0.03, 0.03, 0.0, 0.0, 0.05,
           0.05, 0.06, 0.05, 0.05, 0.06, 0.06]
lr_mon = [0.15, -0.15, -0.1, -0.1, -0.05, -0.05, -0.05, -0.05, -0.05, 0.0,
          0.03, 0.0, 0.0, 0.0, 0.0, 0.0, 0.05, 0.05, 0.05, 0.05,
          0.05, 0.05, 0.04, 0.02, 0.02, 0.0, -0.05, 0.0, -0.05, -0.03,
          -0.1, -0.2, -0.15, -0.15, 0.1, 0.12, 0.03, 0.05, 0.05, 0.05,
          0.08, 0.05, 0.15, 0.12, 0.12, 0.12, 0.12, 0.05, -0.2, -0.45,
          -0.45, -0.6, -0.45, -0.3, -0.25, -0.2, 0.03, 0.05, 0.1, 0.08,
          0.1, 0.05, 0.05, 0.15, 0.2, 0.2, 0.1, 0.05, 0.05, -0.03,
          -0.05, -0.1, -0.05, 0.02, -0.05, -0.1, -0.15, -0.2, -0.1, 0.0,
          0.05, 0.03, 0.05, 0.05, 0.08, 0.08]

panels = [
    ("Durables", [dur_exo, dur_ddem, dur_dsup, dur_adem, dur_asup, dur_mon], dur_total,
     (-15, 15), [-15, -10, -5, 0, 5, 10, 15]),
    ("Nondurables", [nd_exo, nd_ddem, nd_dsup, nd_adem, nd_asup, nd_mon], nd_total,
     (-2, 5), [-2, -1, 0, 1, 2, 3, 4, 5]),
    ("Total consumption", [tc_exo, tc_ddem, tc_dsup, tc_adem, tc_asup, tc_mon], tc_total,
     (-2, 5), [-2, -1, 0, 1, 2, 3, 4, 5]),
    ("Price of durables", [pd_exo, pd_ddem, pd_dsup, pd_adem, pd_asup, pd_mon], pd_total,
     (-8, 4), [-8, -6, -4, -2, 0, 2, 4]),
    ("Price of nondurables", [pn_exo, pn_ddem, pn_dsup, pn_adem, pn_asup, pn_mon], pn_total,
     (-4, 6), [-4, -2, 0, 2, 4, 6]),
    ("Lending rate", [lr_exo, lr_ddem, lr_dsup, lr_adem, lr_asup, lr_mon], lr_total,
     (-1.5, 1), [-1.5, -1, -0.5, 0, 0.5, 1]),
]

sns.set_style("white")
plt.rcParams["font.family"] = ["Liberation Sans", "DejaVu Sans"]
plt.rcParams["axes.unicode_minus"] = False

x = quarters.year + (quarters.quarter - 1) / 4.0
n = len(x)
for _, comps, tot, _, _ in panels:
    assert len(tot) == n and all(len(c) == n for c in comps)

W, H = 1223, 638
fig = plt.figure(figsize=(W / 100, H / 100), dpi=100)

cols = [(132.5, 400.0), (485.5, 752.7), (838.3, 1106.5)]
rows = [(29.0, 238.0), (321.0, 530.0)]

for k, (title, comps, tot, ylim, yticks) in enumerate(panels):
    l, r = cols[k % 3]
    t, b = rows[k // 3]
    ax = fig.add_axes([l / W, 1 - b / H, (r - l) / W, (b - t) / H])
    big = title == "Lending rate"

    pos_base = np.zeros(n)
    neg_base = np.zeros(n)
    for vals, col in zip(comps, shock_colors):
        v = np.asarray(vals, dtype=float)
        p = np.clip(v, 0, None)
        q = np.clip(v, None, 0)
        ax.bar(x, p, width=0.25, bottom=pos_base, color=col, linewidth=0.3, edgecolor=col)
        ax.bar(x, q, width=0.25, bottom=neg_base, color=col, linewidth=0.3, edgecolor=col)
        pos_base += p
        neg_base += q

    sns.lineplot(x=np.asarray(x), y=tot, color="black", linewidth=2.8, ax=ax, legend=False)

    ax.set_xlim(1997.375, 2018.875)
    ax.set_ylim(*ylim)
    ax.set_xticks([2000, 2005, 2010, 2015])
    ax.set_yticks(yticks)
    ax.set_yticklabels([f"{v:g}" for v in yticks])
    ax.set_xlabel("")
    ax.set_ylabel("")
    for s in ["top", "right"]:
        ax.spines[s].set_visible(False)
    for s in ["left", "bottom"]:
        ax.spines[s].set_color("#262626")
        ax.spines[s].set_linewidth(0.8)
    fs = 12.5 if big else 7.8
    ax.tick_params(axis="both", labelsize=fs, colors="#262626", length=2.5, direction="in")
    ax.tick_params(axis="y", pad=3)
    ax.tick_params(axis="x", pad=8 if big else 5.5)
    ax.set_title(title, fontsize=13.5 if big else 8.5, fontweight="bold", pad=6 if big else 4)

handles = [Patch(facecolor=c, edgecolor="none") for c in shock_colors]
handles.append(Line2D([], [], color="black", linewidth=3.5))
labels = shock_names + ["Total"]
fig.legend(handles, labels, loc="center", bbox_to_anchor=(616 / W, 1 - 568 / H), ncol=7,
           frameon=False, fontsize=12.4, handlelength=2.0, handleheight=1.0,
           handletextpad=0.12, columnspacing=0.35, borderpad=0, borderaxespad=0)

fig.text(12 / W, 1 - 597 / H,
         "Note: Historical decomposition for year-on-year growth rate of the five endogenous variables and our total",
         family="cmr10", fontsize=17.7, va="center", ha="left")
fig.text(12 / W, 1 - 625 / H, "consumption aggregate.",
         family="cmr10", fontsize=17.7, va="center", ha="left")

fig.savefig("out.png", dpi=100)
